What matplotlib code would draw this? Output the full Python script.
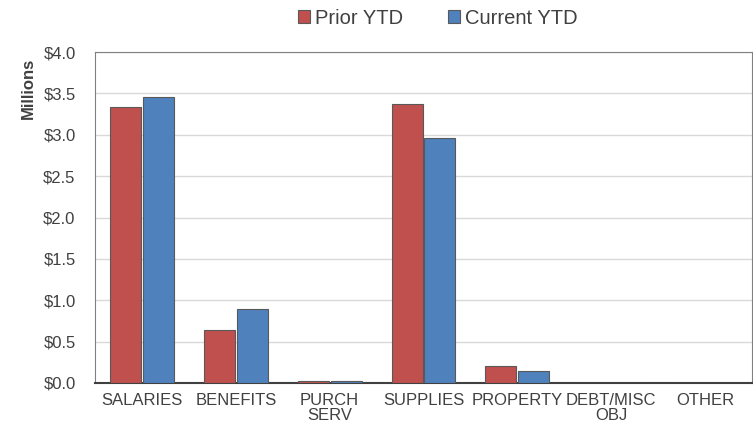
import matplotlib
matplotlib.use("Agg")
import matplotlib.pyplot as plt
import numpy as np

plt.rcParams['font.family'] = ['Liberation Sans', 'DejaVu Sans']

categories = ["SALARIES", "BENEFITS", "PURCH\nSERV", "SUPPLIES", "PROPERTY", "DEBT/MISC\nOBJ", "OTHER"]
prior_ytd = [3.34, 0.64, 0.02, 3.37, 0.21, 0.0, 0.0]
current_ytd = [3.46, 0.89, 0.02, 2.96, 0.15, 0.0, 0.0]

fig = plt.figure(figsize=(7.53, 4.30), dpi=100)
ax = fig.add_axes([95/753, 1 - 383/430, (752 - 95)/753, (383 - 52)/430])

x = np.arange(len(categories))
w = 0.33
ax.bar(x - 0.175, prior_ytd, w, color="#C0504D", edgecolor="#595959", linewidth=0.8,
       label="Prior YTD", zorder=3)
ax.bar(x + 0.175, current_ytd, w, color="#4F81BD", edgecolor="#595959", linewidth=0.8,
       label="Current YTD", zorder=3)

ax.set_xlim(-0.5, len(categories) - 0.5)
ax.set_ylim(0, 4.0)
ax.set_yticks(np.arange(0, 4.01, 0.5))
ax.set_yticklabels(["$%.1f" % v for v in np.arange(0, 4.01, 0.5)])
ax.set_xticks(x)
ax.set_xticklabels(categories, linespacing=1.0)
ax.tick_params(axis="both", length=0, labelsize=12, colors="#404040")
ax.tick_params(axis="x", pad=7)
ax.tick_params(axis="y", pad=14)
ax.yaxis.grid(True, color="#D9D9D9", linewidth=1, zorder=0)
for s in ["left", "top", "right"]:
    ax.spines[s].set_color("#808080")
    ax.spines[s].set_linewidth(0.8)
ax.spines["bottom"].set_color("#404040")
ax.spines["bottom"].set_linewidth(1.5)
ax.set_ylabel("Millions", fontsize=12, fontweight="bold", color="#404040")
ax.yaxis.set_label_coords((28 - 95) / 657, 1 - 6 / 331)
ax.yaxis.label.set_va("center")
ax.yaxis.label.set_ha("right")

fig.legend(loc="center", bbox_to_anchor=(438/753, 1 - 18/430), ncol=2, frameon=False,
           fontsize=14.5, handlelength=0.6, handleheight=0.6, handletextpad=0.25,
           columnspacing=2.2, labelcolor="#404040")

fig.savefig("out.png", dpi=100)
